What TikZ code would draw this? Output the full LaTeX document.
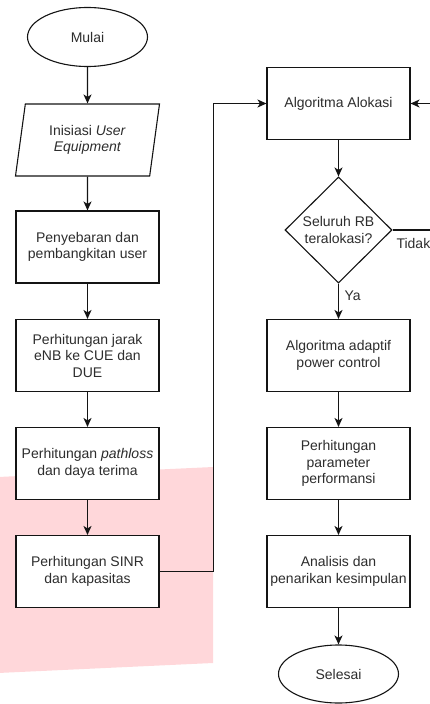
\documentclass[tikz,border=0pt]{standalone}
\usepackage{fontspec}
\setmainfont{Liberation Sans}
\usepackage{tikz}
\usetikzlibrary{positioning, arrows.meta, shapes.geometric}
\definecolor{FlowLine}{RGB}{20,20,20}
\definecolor{FlowText}{RGB}{45,45,45}
\definecolor{BlushPink}{RGB}{255,215,218}

\begin{document}
\begin{tikzpicture}[x=1pt, y=-1pt,
    every node/.style={font=\fontsize{14}{16.5}\selectfont, text=FlowText, align=center},
    procbox/.style={draw=FlowLine, line width=1.1pt, fill=white, minimum width=143pt, minimum height=72pt, inner sep=1pt},
    terminal/.style={ellipse, draw=FlowLine, line width=1.1pt, fill=white, minimum width=120pt, minimum height=59pt, inner sep=0pt},
    datanode/.style={trapezium, trapezium left angle=71.6, trapezium right angle=108.4, trapezium stretches body, draw=FlowLine, line width=1.1pt, fill=white, minimum width=144pt, minimum height=72pt, inner sep=0pt},
    decision/.style={diamond, aspect=1, draw=FlowLine, line width=1.1pt, fill=white, minimum width=107pt, minimum height=106pt, inner sep=0pt},
    flowarrow/.style={draw=FlowLine, line width=1.1pt, -{Stealth[length=9pt, width=8pt, inset=2.5pt]}}]
  \useasboundingbox (0,0) rectangle (429,704);
  % background band
  \fill[BlushPink] (-2,477) -- (213,467) -- (213,663) -- (-2,673) -- cycle;
  % left column
  \node[terminal] (mulai) at (87.5,37) {Mulai};
  \node[datanode] (inisiasi) at (87.5,140) {Inisiasi \textit{User}\\\textit{Equipment}};
  \node[procbox] (sebaran) at (87.5,247) {Penyebaran dan\\pembangkitan user};
  \node[procbox] (jarak) at (87.5,355.5) {Perhitungan jarak\\eNB ke CUE dan\\DUE};
  \node[procbox] (pathloss) at (87.5,463.5) {Perhitungan \textit{pathloss}\\dan daya terima};
  \node[procbox] (sinr) at (87.5,571.5) {Perhitungan SINR\\dan kapasitas};
  % right column
  \node[procbox] (alokasi) at (338.5,103.5) {Algoritma Alokasi};
  \node[decision] (cekrb) at (338.5,230) {Seluruh RB\\teralokasi?};
  \node[procbox] (adaptif) at (338.5,355.5) {Algoritma adaptif\\power control};
  \node[procbox] (performa) at (338.5,463.5) {Perhitungan\\parameter\\performansi};
  \node[procbox] (analisis) at (338.5,571.5) {Analisis dan\\penarikan kesimpulan};
  \node[terminal, minimum height=58pt] (selesai) at (338.5,674) {Selesai};
  % connectors
  \draw[flowarrow] (mulai.south) -- (inisiasi.north);
  \draw[flowarrow] (inisiasi.south) -- (sebaran.north);
  \draw[flowarrow] (sebaran) -- (jarak);
  \draw[flowarrow] (jarak) -- (pathloss);
  \draw[flowarrow] (pathloss) -- (sinr);
  \draw[flowarrow] (sinr.east) -- ++(53.5,0) |- (alokasi.west);
  \draw[flowarrow] (alokasi) -- (cekrb);
  \coordinate (loopback) at (432,230);
  \draw[flowarrow] (cekrb.east) -- (loopback) |- (alokasi.east);
  \draw[flowarrow] (cekrb) -- (adaptif);
  \draw[flowarrow] (adaptif) -- (performa);
  \draw[flowarrow] (performa) -- (analisis);
  \draw[flowarrow] (analisis) -- (selesai);
  \node[anchor=west] (tidak) at (393,243) {Tidak};
  \node[anchor=west] (ya) at (341,296) {Ya};
\end{tikzpicture}
\end{document}
